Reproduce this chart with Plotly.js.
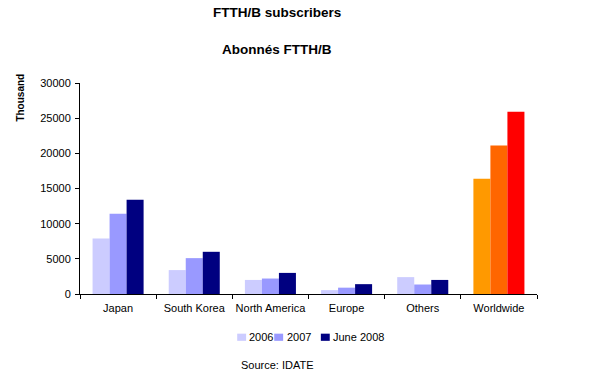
<!DOCTYPE html>
<html>
<head>
<meta charset="utf-8">
<script src="https://cdn.plot.ly/plotly-3.0.1.min.js"></script>
<style>html,body{margin:0;padding:0;background:#fff;}#chart{width:600px;height:372px;}</style>
</head>
<body>
<div id="chart"></div>
<script>
const categories = ["Japan", "South Korea", "North America", "Europe", "Others", "Worldwide"];
const seriesNames = ["2006", "2007", "June 2008"];
const values2006 = [7900, 3400, 2000, 550, 2400, 16400];
const values2007 = [11400, 5100, 2200, 900, 1350, 21100];
const valuesJune2008 = [13400, 6000, 3000, 1400, 2000, 25900];
const baseColors = ["#ccccff", "#9999ff", "#000080"];
const worldColors = ["#ff9900", "#ff6600", "#ff0000"];
const yTicks = [0, 5000, 10000, 15000, 20000, 25000, 30000];

const allValues = [values2006, values2007, valuesJune2008];
const font = {family: "Liberation Sans, Arial, sans-serif", color: "#000"};
const f = s => Object.assign({size: s}, font);

const traces = allValues.map((vals, i) => ({
  type: "bar",
  name: seriesNames[i],
  x: categories,
  y: vals,
  marker: {
    color: categories.map(c => c === "Worldwide" ? worldColors[i] : baseColors[i]),
    line: {width: 0}
  },
  showlegend: false
}));

// Custom compact legend (square + label), positioned in paper coordinates
const legendX = [0.344, 0.425, 0.527]; // left edge of each square
const legendY = -0.205;
const sq = 0.0195; // square width in paper x units (~9px)
const sqh = 0.034; // square height in paper y units (~7px)
const legendShapes = seriesNames.map((n, i) => ({
  type: "rect", xref: "paper", yref: "paper",
  x0: legendX[i], x1: legendX[i] + sq,
  y0: legendY - sqh / 2, y1: legendY + sqh / 2,
  fillcolor: baseColors[i], line: {width: 0}
}));
const legendTexts = seriesNames.map((n, i) => ({
  text: n, xref: "paper", yref: "paper",
  x: legendX[i] + sq + 0.003, y: legendY, xanchor: "left", yanchor: "middle",
  showarrow: false, font: f(11)
}));

const layout = {
  width: 600, height: 372,
  paper_bgcolor: "#fff", plot_bgcolor: "#fff",
  margin: {l: 80, r: 63, t: 83, b: 78},
  barmode: "group",
  bargap: 0.33,
  bargroupgap: 0,
  font: f(11),
  showlegend: false,
  xaxis: {
    type: "category",
    showline: true, linecolor: "#000", linewidth: 1,
    ticks: "outside", ticklen: 4, tickcolor: "#000", tickson: "boundaries",
    tickangle: 0,
    ticklabelstandoff: 4,
    showgrid: false, zeroline: false,
    tickfont: f(11),
    fixedrange: true
  },
  yaxis: {
    range: [0, 30000],
    tickvals: yTicks,
    ticktext: yTicks.map(String),
    showline: true, linecolor: "#000", linewidth: 1,
    ticks: "outside", ticklen: 4, tickcolor: "#000",
    ticklabelstandoff: 2,
    showgrid: false, zeroline: false,
    tickfont: f(11),
    fixedrange: true
  },
  shapes: legendShapes,
  annotations: [
    {text: "<b>FTTH/B subscribers</b>", xref: "paper", yref: "paper", x: 0.432, y: 1.336, xanchor: "center", yanchor: "middle", showarrow: false, font: f(13.5)},
    {text: "<b>Abonnés FTTH/B</b>", xref: "paper", yref: "paper", x: 0.432, y: 1.161, xanchor: "center", yanchor: "middle", showarrow: false, font: f(13.5)},
    {text: "<b>Thousand</b>", xref: "paper", yref: "paper", x: -0.129, y: 0.931, xanchor: "center", yanchor: "middle", textangle: -90, showarrow: false, font: f(10)},
    {text: "Source: IDATE", xref: "paper", yref: "paper", x: 0.433, y: -0.336, xanchor: "center", yanchor: "middle", showarrow: false, font: f(11)}
  ].concat(legendTexts)
};

Plotly.newPlot("chart", traces, layout, {displayModeBar: false, staticPlot: true});
</script>
</body>
</html>
